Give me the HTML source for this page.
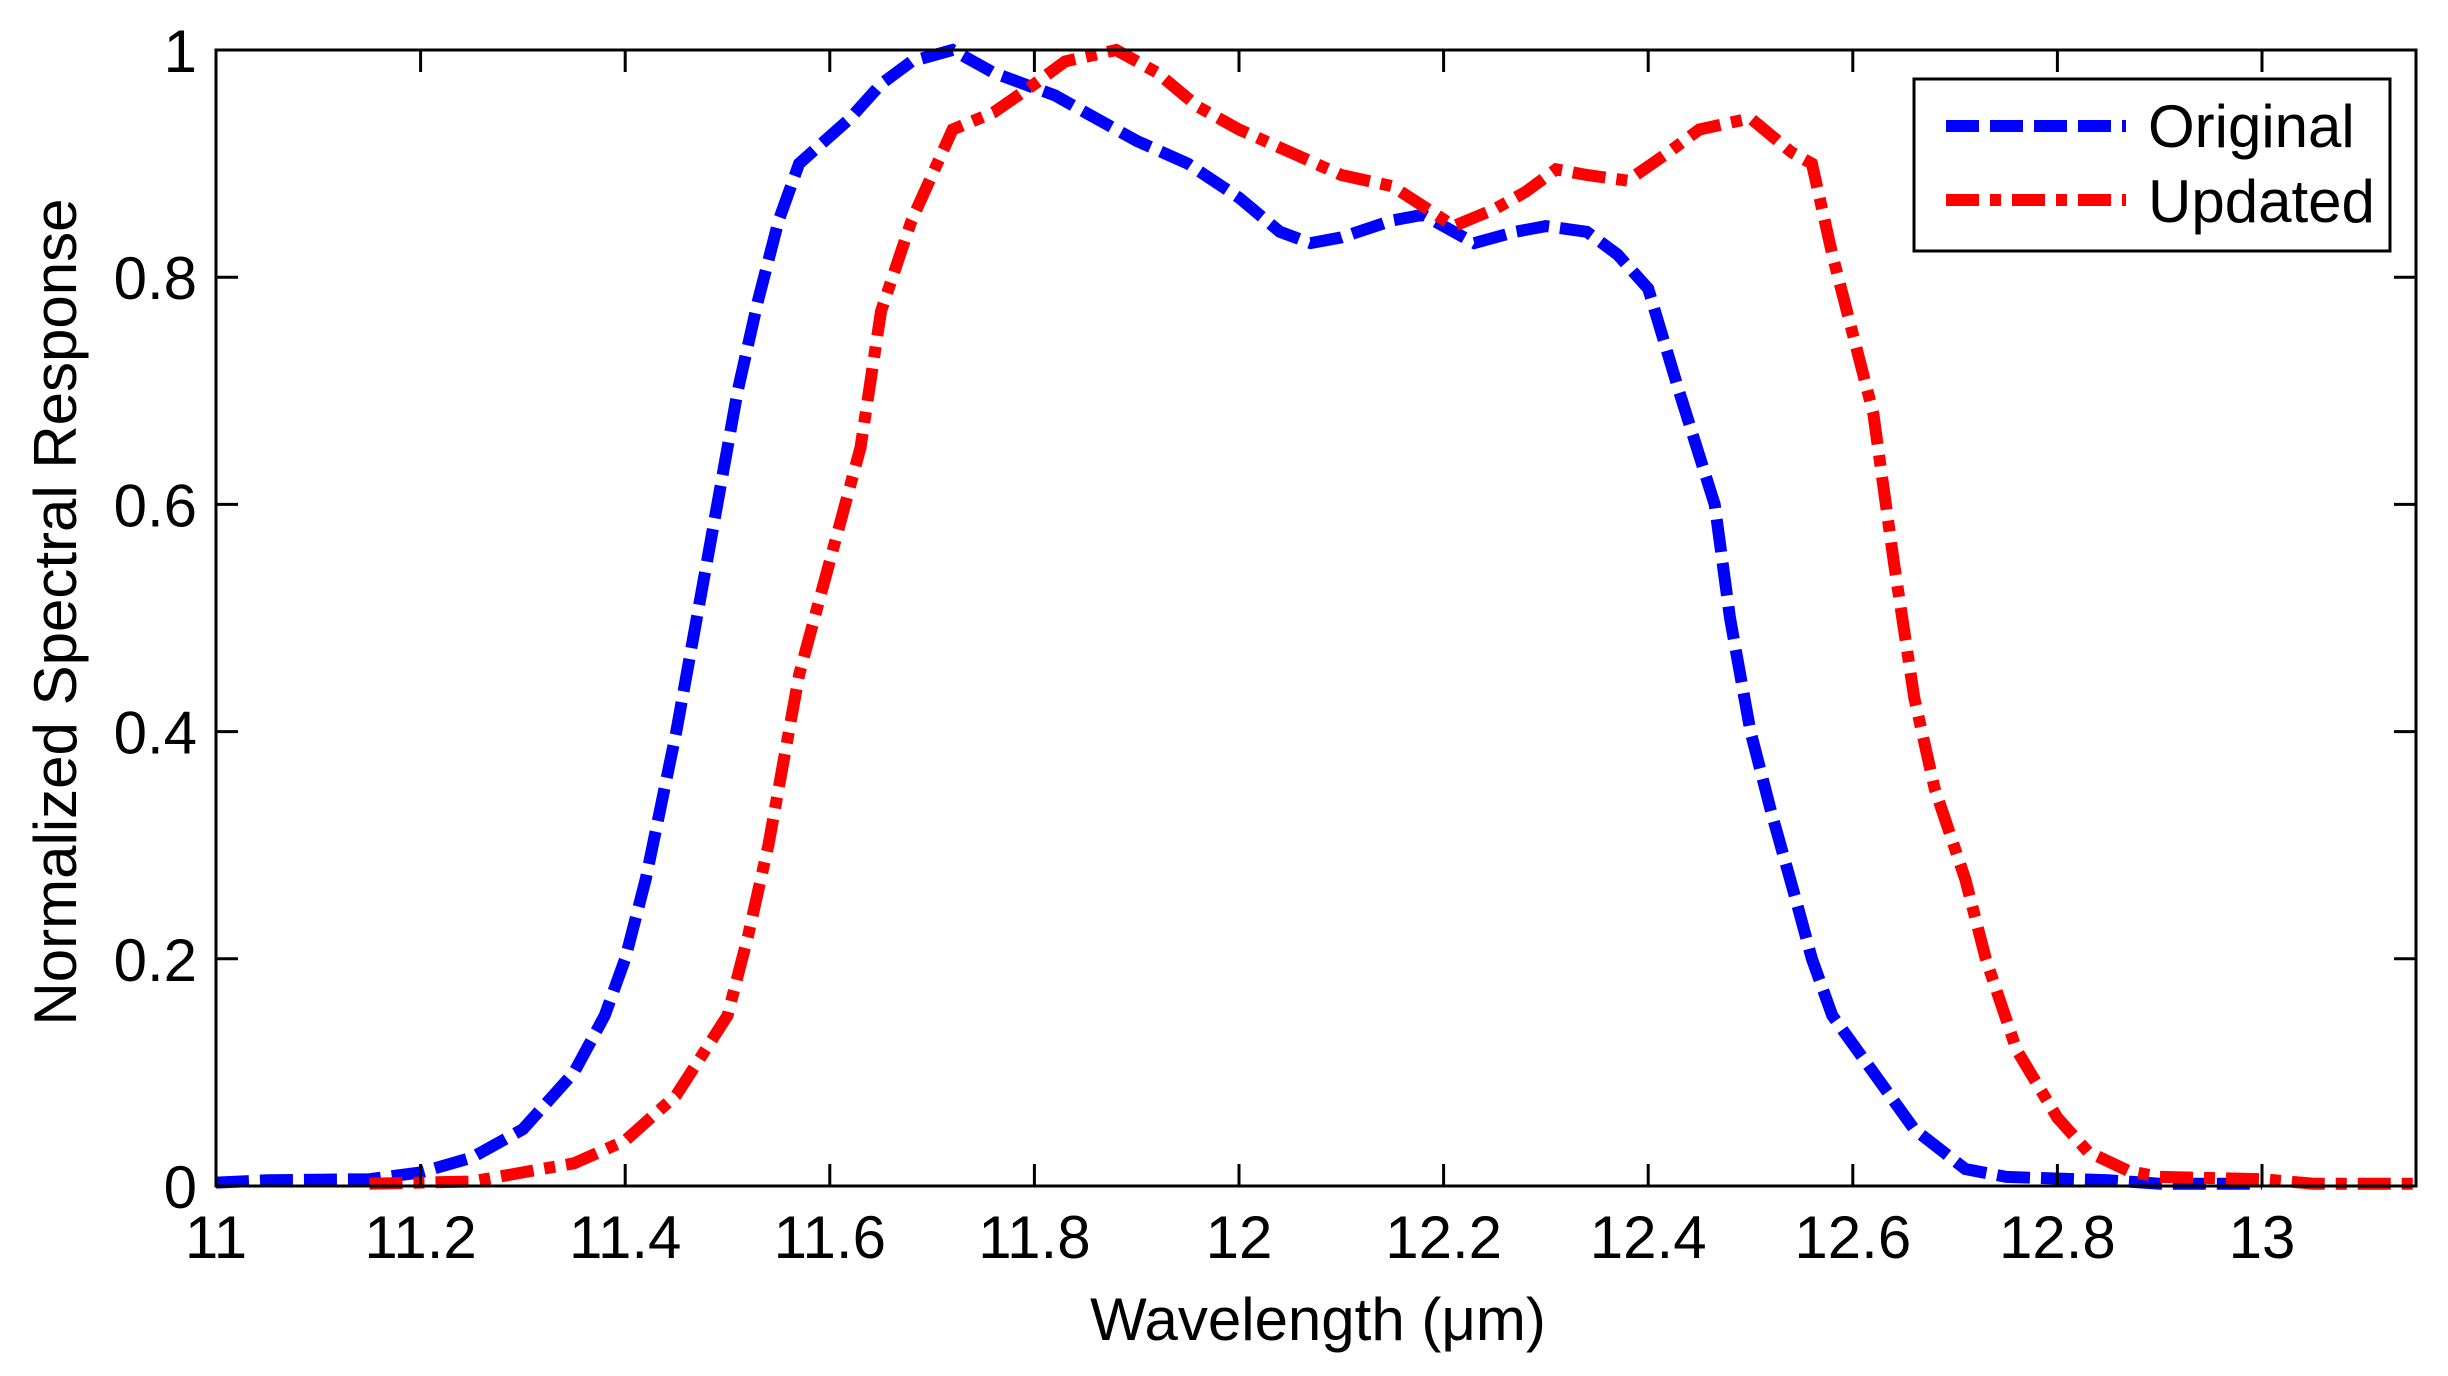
<!DOCTYPE html>
<html><head><meta charset="utf-8"><style>html,body{margin:0;padding:0;background:#fff}</style></head>
<body>
<svg width="2448" height="1371" viewBox="0 0 2448 1371" xmlns="http://www.w3.org/2000/svg" font-family="Liberation Sans, Arial, sans-serif">
<rect width="2448" height="1371" fill="#fff"/>
<g id="plot"></g>
<rect x="216" y="50" width="2200" height="1136" fill="none" stroke="#000" stroke-width="3"/>
<g id="ticks" stroke="#000" stroke-width="3"></g>
<g id="labels" font-size="60" fill="#000"></g>
<text x="1318" y="1340" font-size="60" text-anchor="middle">Wavelength (μm)</text>
<text transform="translate(76,612) rotate(-90)" font-size="60" text-anchor="middle">Normalized Spectral Response</text>
<rect x="1914" y="79" width="476" height="172" fill="#fff" stroke="#000" stroke-width="3"/>
<line x1="1946" y1="126" x2="2126" y2="126" stroke="#0000ff" stroke-width="12" stroke-dasharray="33 11"/>
<line x1="1946" y1="200" x2="2126" y2="200" stroke="#ff0000" stroke-width="12" stroke-dasharray="33 11 11 11"/>
<text x="2148" y="147" font-size="60">Original</text>
<text x="2148" y="222" font-size="60">Updated</text>
</svg>
<script>
const X=w=>216+(w-11)*1023, Y=v=>1186-v*1136;
const blue=[[11,0.003],[11.05,0.005],[11.15,0.006],[11.2,0.012],[11.25,0.025],[11.3,0.05],[11.35,0.1],[11.38,0.15],[11.4,0.2],[11.42,0.27],[11.45,0.4],[11.47,0.5],[11.49,0.6],[11.51,0.7],[11.53,0.78],[11.55,0.85],[11.57,0.9],[11.62,0.94],[11.65,0.97],[11.68,0.99],[11.72,1.0],[11.76,0.98],[11.82,0.96],[11.86,0.94],[11.9,0.92],[11.95,0.9],[12.0,0.87],[12.04,0.84],[12.07,0.83],[12.1,0.835],[12.15,0.85],[12.18,0.855],[12.23,0.83],[12.27,0.84],[12.3,0.845],[12.34,0.84],[12.37,0.82],[12.4,0.79],[12.43,0.7],[12.465,0.6],[12.48,0.5],[12.5,0.4],[12.52,0.33],[12.545,0.25],[12.56,0.2],[12.58,0.15],[12.62,0.1],[12.66,0.05],[12.71,0.015],[12.75,0.008],[12.85,0.005],[12.9,0.002],[13.0,0.002]];
const red=[[11.15,0.002],[11.25,0.004],[11.3,0.012],[11.35,0.02],[11.4,0.04],[11.45,0.08],[11.5,0.15],[11.52,0.22],[11.54,0.3],[11.57,0.45],[11.6,0.55],[11.63,0.65],[11.65,0.77],[11.68,0.85],[11.72,0.93],[11.76,0.945],[11.8,0.97],[11.83,0.99],[11.88,1.0],[11.92,0.98],[11.96,0.95],[12.0,0.93],[12.05,0.91],[12.1,0.89],[12.15,0.88],[12.21,0.845],[12.25,0.86],[12.28,0.875],[12.31,0.895],[12.34,0.89],[12.38,0.885],[12.42,0.91],[12.45,0.93],[12.5,0.94],[12.54,0.91],[12.56,0.9],[12.58,0.82],[12.6,0.75],[12.62,0.68],[12.64,0.55],[12.66,0.43],[12.68,0.35],[12.71,0.27],[12.73,0.2],[12.76,0.12],[12.8,0.06],[12.83,0.03],[12.87,0.013],[12.9,0.008],[13.0,0.006],[13.05,0.002],[13.15,0.002]];
const pts=a=>a.map(p=>X(p[0]).toFixed(1)+","+Y(p[1]).toFixed(1)).join(" ");
const NS="http://www.w3.org/2000/svg";
const g=document.getElementById("plot");
function pl(a,c,d){const e=document.createElementNS(NS,"polyline");e.setAttribute("points",pts(a));e.setAttribute("fill","none");e.setAttribute("stroke",c);e.setAttribute("stroke-width","12");e.setAttribute("stroke-dasharray",d);e.setAttribute("stroke-linejoin","miter");g.appendChild(e);}
pl(blue,"#0000ff","33 11");pl(red,"#ff0000","33 11 11 11");
const t=document.getElementById("ticks"),L=document.getElementById("labels");
function line(x1,y1,x2,y2){const e=document.createElementNS(NS,"line");e.setAttribute("x1",x1);e.setAttribute("y1",y1);e.setAttribute("x2",x2);e.setAttribute("y2",y2);t.appendChild(e);}
function txt(x,y,s,a){const e=document.createElementNS(NS,"text");e.setAttribute("x",x);e.setAttribute("y",y);e.setAttribute("text-anchor",a);e.textContent=s;L.appendChild(e);}
for(let i=0;i<=10;i++){const w=11+i*0.2,x=X(w);line(x,1186,x,1164);line(x,50,x,72);txt(x,1258,(Math.round(w*10)/10).toString(),"middle");}
for(let i=0;i<=5;i++){const v=i*0.2,y=Y(v);line(216,y,238,y);line(2416,y,2394,y);txt(197,y+22,v===0?"0":v===1?"1":v.toFixed(1),"end");}
</script>
</body></html>
